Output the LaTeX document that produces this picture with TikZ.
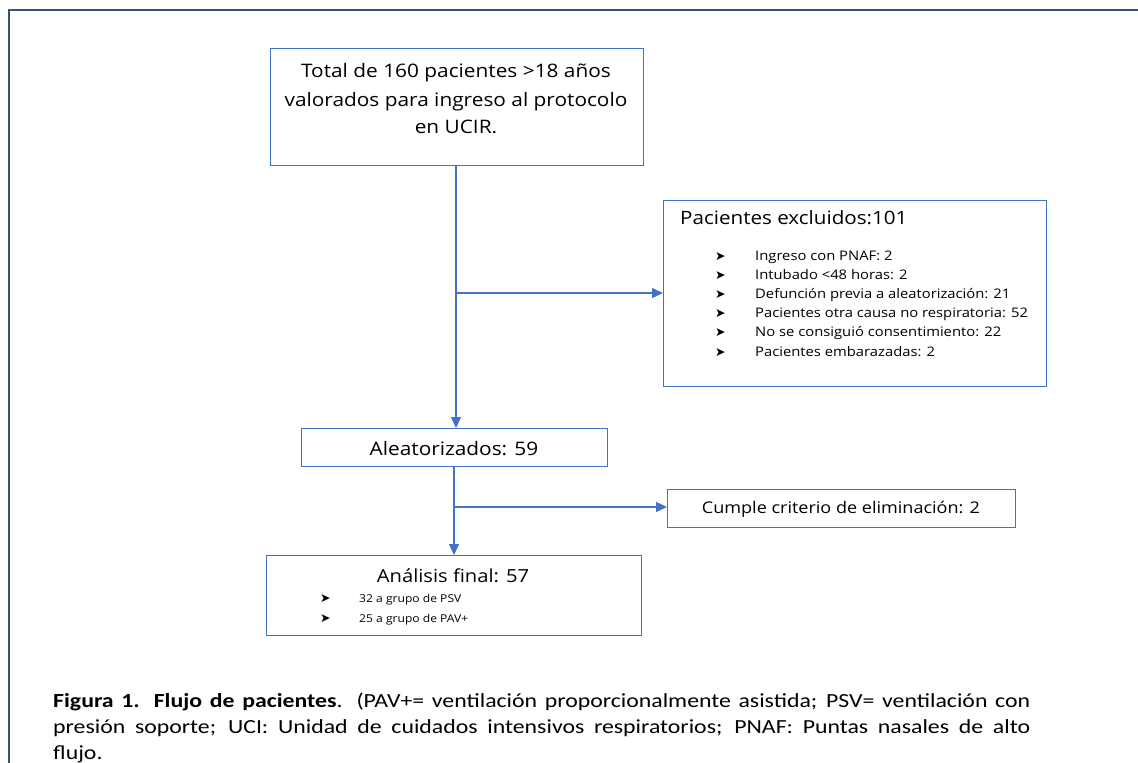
\documentclass[tikz,border=0pt]{standalone}
\usepackage{fontspec}
\setmainfont[FakeStretch=1.12]{Open Sans}
\newfontfamily\capfont[FakeStretch=1.19]{Carlito}
\newfontfamily\symfont{DejaVu Sans}
\usetikzlibrary{arrows.meta}
\definecolor{lineblue}{HTML}{4472C4}
\definecolor{frameblue}{HTML}{3A5078}
\tikzset{
  box/.style={draw=lineblue, line width=1.3pt, fill=white, inner sep=0pt},
  flow/.style={draw=lineblue, line width=1.3pt, -{Triangle[length=11pt,width=10pt]}},
  big/.style={anchor=base, inner sep=0pt, font=\fontsize{18.6}{22}\selectfont},
  item/.style={anchor=base west, inner sep=0pt, font=\fontsize{13.2}{15}\selectfont},
  bul/.style={anchor=base west, inner sep=0pt, font=\symfont\fontsize{12.5}{14}\selectfont},
  capline/.style={anchor=base west, inner sep=0pt, font=\capfont\fontsize{20}{24}\selectfont}
}
\begin{document}
\begin{tikzpicture}[x=1pt,y=-1pt]
\useasboundingbox (0,0) rectangle (1138,763);
\fill[white] (0,0) rectangle (1138,763);
% outer frame
\draw[frameblue, line width=2.5pt] (1140,10) -- (9,10) -- (9,765);

% boxes
\node[box, minimum width=373pt, minimum height=117pt, anchor=north west] (top) at (270,48) {};
\node[big] (toptxt) at (456,77) {Total de 160 pacientes >18 años};
\node[big] (toptxt2) at (456,106) {valorados para ingreso al protocolo};
\node[big] (toptxt3) at (456,133) {en UCIR.};

\node[box, minimum width=383pt, minimum height=186pt, anchor=north west] (excl) at (663,200) {};
\node[big, anchor=base west, font=\fontsize{18.4}{22}\selectfont] (excltitle) at (680,224) {Pacientes excluidos:101};
\node[bul] (b1) at (715,260) {➤};
\node[item] (i1) at (755,260) {Ingreso con PNAF: 2};
\node[bul] (b2) at (715,279) {➤};
\node[item] (i2) at (755,279) {Intubado <48 horas: 2};
\node[bul] (b3) at (715,298) {➤};
\node[item] (i3) at (755,298) {Defunción previa a aleatorización: 21};
\node[bul] (b4) at (715,317) {➤};
\node[item] (i4) at (755,317) {Pacientes otra causa no respiratoria: 52};
\node[bul] (b5) at (715,336) {➤};
\node[item] (i5) at (755,336) {No se consiguió consentimiento: 22};
\node[bul] (b6) at (715,356) {➤};
\node[item] (i6) at (755,356) {Pacientes embarazadas: 2};

\node[box, minimum width=306pt, minimum height=38pt, anchor=north west] (alea) at (301,428) {};
\node[big] (aleatxt) at (454,455) {Aleatorizados: 59};

\node[box, minimum width=348pt, minimum height=38pt, anchor=north west] (cumple) at (667,489) {};
\node[big, font=\fontsize{16.1}{19}\selectfont] (cumpletxt) at (841,513) {Cumple criterio de eliminación: 2};

\node[box, minimum width=375pt, minimum height=80pt, anchor=north west] (anal) at (266,555) {};
\node[big, font=\fontsize{18}{21}\selectfont] (analtxt) at (453,582) {Análisis final: 57};
\node[bul] (c1) at (320,602) {➤};
\node[item, font=\fontsize{10.8}{13}\selectfont] (j1) at (359,602) {32 a grupo de PSV};
\node[bul] (c2) at (320,622) {➤};
\node[item, font=\fontsize{10.8}{13}\selectfont] (j2) at (359,622) {25 a grupo de PAV+};

% connectors
\coordinate (split1) at (456,293);
\coordinate (split2) at (454,507);
\draw[flow] (top.south -| split1) -- (alea.north -| split1);
\draw[flow] (split1) -- (split1 -| excl.west);
\draw[flow] (alea.south -| split2) -- (anal.north -| split2);
\draw[flow] (split2) -- (split2 -| cumple.west);

% caption
\node[capline] (cap1) at (53,707) {\makebox[977pt][s]{\textbf{Figura 1. Flujo de pacientes}. (PAV+= ventilación proporcionalmente asistida; PSV= ventilación con}};
\node[capline] (cap2) at (53,733) {\makebox[977pt][s]{presión soporte; UCI: Unidad de cuidados intensivos respiratorios; PNAF: Puntas nasales de alto}};
\node[capline] (cap3) at (53,759) {flujo.};
\end{tikzpicture}
\end{document}
